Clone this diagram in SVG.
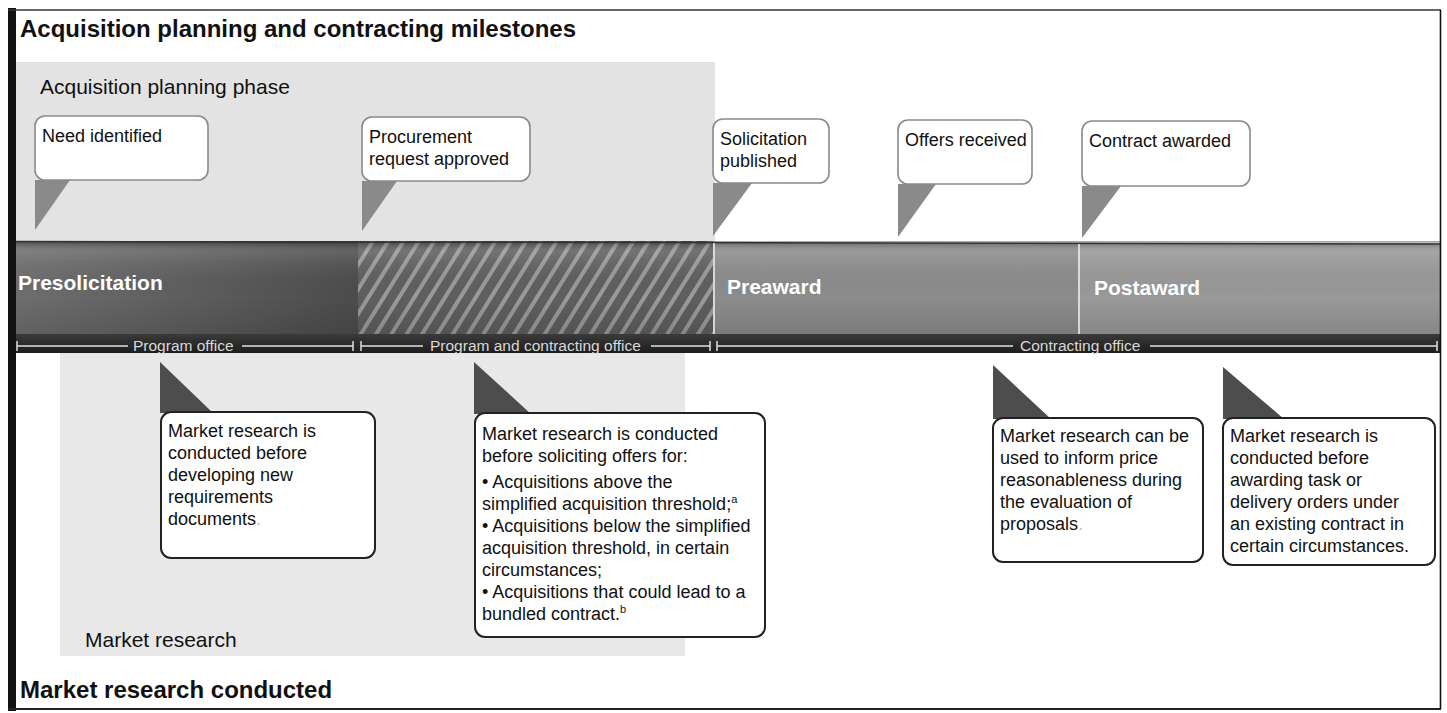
<svg xmlns="http://www.w3.org/2000/svg" width="1447" height="713" viewBox="0 0 1447 713">
<defs>
<style>
text{font-family:"Liberation Sans",Arial,sans-serif;fill:#111}
.title{font-size:24px;font-weight:bold}
.phase{font-size:21px}
.band{font-size:21px;font-weight:bold;fill:#fff}
.bar{font-size:15.5px;fill:#d8d8d8}
.t{font-size:18px}
.topbox{fill:#fff;stroke:#8a8a8a;stroke-width:1.6}
.toptail{fill:#8a8a8a}
.botbox{fill:#fff;stroke:#222;stroke-width:2}
.bottail{fill:#4d4d4d}
.span{stroke:#e0e0e0;stroke-width:1.5;fill:none}
.sup{font-size:11px}
</style>
<linearGradient id="gPre" x1="0" y1="0" x2="1" y2="0">
<stop offset="0" stop-color="#6e6e6e"/>
<stop offset="0.5" stop-color="#5e5e5e"/>
<stop offset="1" stop-color="#4c4c4c"/>
</linearGradient>
<linearGradient id="gShade" x1="0" y1="0" x2="0" y2="1">
<stop offset="0" stop-color="#000" stop-opacity="0.35"/>
<stop offset="0.12" stop-color="#fff" stop-opacity="0.12"/>
<stop offset="0.6" stop-color="#000" stop-opacity="0"/>
<stop offset="1" stop-color="#000" stop-opacity="0.12"/>
</linearGradient>
<linearGradient id="gBar" x1="0" y1="0" x2="0" y2="1">
<stop offset="0" stop-color="#3a3a3a"/>
<stop offset="1" stop-color="#1e1e1e"/>
</linearGradient>
<pattern id="hatch" width="13" height="13" patternUnits="userSpaceOnUse" patternTransform="rotate(32)">
<rect width="13" height="13" fill="#5f5f5f"/>
<rect x="0" y="0" width="4" height="13" fill="#9a9a9a"/>
</pattern>
</defs>

<rect x="0" y="0" width="1447" height="713" fill="#fff"/>

<!-- background regions -->
<g id="planning-phase">
<rect x="16" y="62" width="699" height="180" fill="#e3e3e3"/>
<text class="phase" x="40" y="94">Acquisition planning phase</text>
</g>
<g id="market-research-area">
<rect x="60" y="353" width="625" height="303" fill="#e8e8e8"/>
<text class="phase" x="85" y="647">Market research</text>
</g>

<!-- phase band -->
<g id="band">
<rect x="16" y="241" width="342" height="93" fill="url(#gPre)"/>
<rect x="358" y="241" width="355" height="93" fill="url(#hatch)"/>
<rect x="713" y="243" width="365" height="91" fill="#8c8c8c"/>
<rect x="1078" y="244" width="362" height="90" fill="#999"/>
<rect x="16" y="241" width="1424" height="93" fill="url(#gShade)"/>
<line x1="16" y1="241.5" x2="1440" y2="244" stroke="#333" stroke-width="1.5"/>
<line x1="714" y1="243" x2="714" y2="334" stroke="#f0f0f0" stroke-width="1.5"/>
<line x1="1079" y1="244" x2="1079" y2="334" stroke="#f0f0f0" stroke-width="1.5"/>
</g>
<g id="presolicitation"><text class="band" x="18" y="290">Presolicitation</text></g>
<g id="preaward"><text class="band" x="727" y="294">Preaward</text></g>
<g id="postaward"><text class="band" x="1094" y="295">Postaward</text></g>

<!-- office bar -->
<rect x="16" y="334" width="1424" height="19" fill="url(#gBar)"/>
<g id="connectors">
<path class="span" d="M17 346H128M242 346H353M17 341V351M353 341V351"/>
<path class="span" d="M361 346H423M651 346H710M361 341V351M710 341V351"/>
<path class="span" d="M717 346H1013M1150 346H1437M717 341V351M1437 341V351"/>
</g>
<g id="program-office"><text class="bar" x="133" y="351">Program office</text></g>
<g id="program-contracting-office"><text class="bar" x="430" y="351">Program and contracting office</text></g>
<g id="contracting-office"><text class="bar" x="1020" y="351">Contracting office</text></g>

<!-- top milestones -->
<g id="need-identified">
<polygon class="toptail" points="35,180 70,180 35,230"/>
<rect class="topbox" x="35" y="116" width="173" height="64" rx="10"/>
<text class="t" x="42" y="142">Need identified</text>
</g>
<g id="procurement-request-approved">
<polygon class="toptail" points="362,181 397,181 362,231"/>
<rect class="topbox" x="362" y="117" width="168" height="64" rx="10"/>
<text class="t" x="369" y="143">Procurement</text>
<text class="t" x="369" y="165">request approved</text>
</g>
<g id="solicitation-published">
<polygon class="toptail" points="713,183 752,183 713,236"/>
<rect class="topbox" x="713" y="119" width="116" height="64" rx="10"/>
<text class="t" x="720" y="145">Solicitation</text>
<text class="t" x="720" y="167">published</text>
</g>
<g id="offers-received">
<polygon class="toptail" points="898,184 936,184 898,237"/>
<rect class="topbox" x="898" y="120" width="134" height="64" rx="10"/>
<text class="t" x="905" y="146">Offers received</text>
</g>
<g id="contract-awarded">
<polygon class="toptail" points="1082,186 1121,186 1082,238"/>
<rect class="topbox" x="1082" y="121" width="168" height="65" rx="10"/>
<text class="t" x="1089" y="147">Contract awarded</text>
</g>

<!-- bottom market research notes -->
<g id="mr-requirements">
<polygon class="bottail" points="160,362 160,413 213,413"/>
<rect class="botbox" x="161" y="412" width="214" height="146" rx="10"/>
<text class="t" x="168" y="437">Market research is</text>
<text class="t" x="168" y="459">conducted before</text>
<text class="t" x="168" y="481">developing new</text>
<text class="t" x="168" y="503">requirements</text>
<text class="t" x="168" y="525">documents<tspan fill="#bbb">.</tspan></text>
</g>
<g id="mr-soliciting">
<polygon class="bottail" points="474,362 474,414 531,414"/>
<rect class="botbox" x="475" y="413" width="290" height="224" rx="10"/>
<text class="t" x="482" y="440">Market research is conducted</text>
<text class="t" x="482" y="462">before soliciting offers for:</text>
<text class="t" x="482" y="488">• Acquisitions above the</text>
<text class="t" x="482" y="510">simplified acquisition threshold;<tspan class="sup" dy="-7">a</tspan></text>
<text class="t" x="482" y="532">• Acquisitions below the simplified</text>
<text class="t" x="482" y="554">acquisition threshold, in certain</text>
<text class="t" x="482" y="576">circumstances;</text>
<text class="t" x="482" y="598">• Acquisitions that could lead to a</text>
<text class="t" x="482" y="620">bundled contract.<tspan class="sup" dy="-7">b</tspan></text>
</g>
<g id="mr-price-reasonableness">
<polygon class="bottail" points="993,365 993,419 1051,419"/>
<rect class="botbox" x="993" y="418" width="210" height="144" rx="10"/>
<text class="t" x="1000" y="442">Market research can be</text>
<text class="t" x="1000" y="464">used to inform price</text>
<text class="t" x="1000" y="486">reasonableness during</text>
<text class="t" x="1000" y="508">the evaluation of</text>
<text class="t" x="1000" y="530">proposals<tspan fill="#bbb">.</tspan></text>
</g>
<g id="mr-task-orders">
<polygon class="bottail" points="1223,367 1223,419 1284,419"/>
<rect class="botbox" x="1223" y="418" width="212" height="147" rx="10"/>
<text class="t" x="1230" y="442">Market research is</text>
<text class="t" x="1230" y="464">conducted before</text>
<text class="t" x="1230" y="486">awarding task or</text>
<text class="t" x="1230" y="508">delivery orders under</text>
<text class="t" x="1230" y="530">an existing contract in</text>
<text class="t" x="1230" y="552">certain circumstances.</text>
</g>

<!-- titles -->
<g id="title-top"><text class="title" x="20" y="37">Acquisition planning and contracting milestones</text></g>
<g id="title-bottom"><text class="title" x="20" y="698">Market research conducted</text></g>

<!-- frame -->
<g id="frame">
<rect x="8" y="8" width="8" height="703" fill="#111"/>
<line x1="8" y1="10" x2="1441" y2="10" stroke="#333" stroke-width="1.5"/>
<line x1="1440.5" y1="10" x2="1440.5" y2="709" stroke="#111" stroke-width="1.6"/>
<line x1="8" y1="709" x2="1441" y2="709" stroke="#222" stroke-width="2"/>
</g>
</svg>
